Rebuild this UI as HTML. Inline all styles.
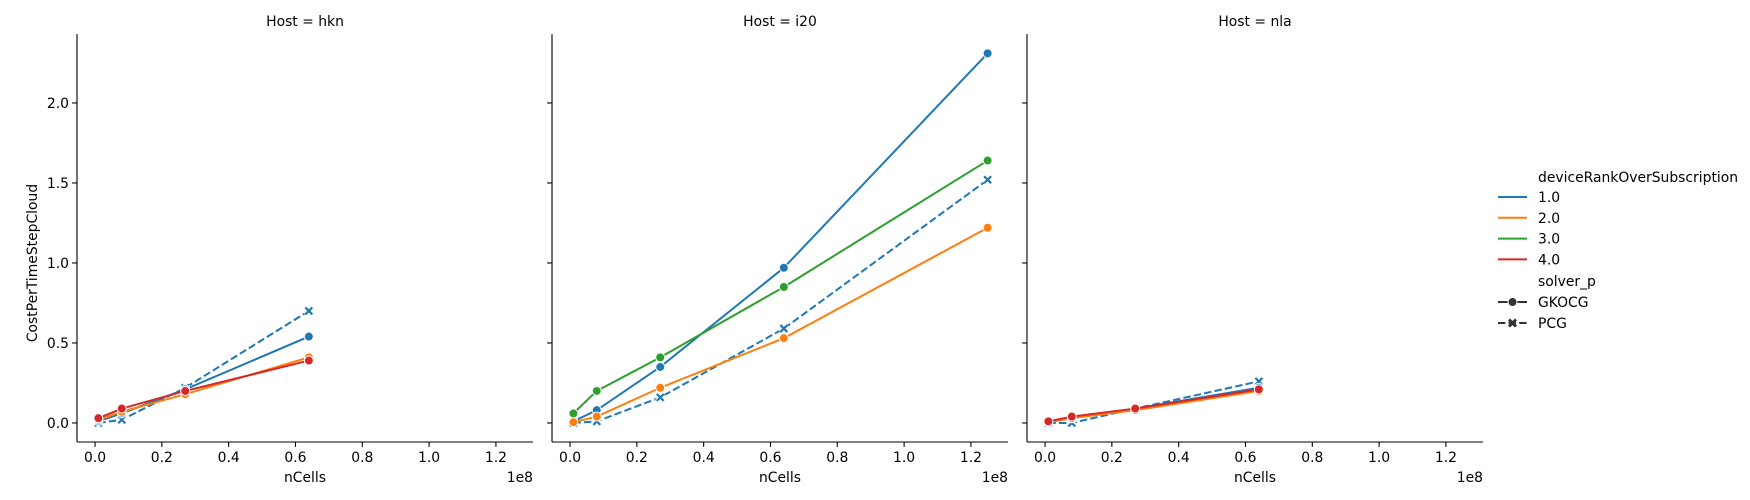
<!DOCTYPE html>
<html><head><meta charset="utf-8"><style>
body{margin:0;background:#fff;}
svg{display:block;font-family:"DejaVu Sans","Liberation Sans",sans-serif;}
</style></head><body>
<svg id="chart" width="1750" height="500" xmlns="http://www.w3.org/2000/svg"></svg>
<script>
const hosts = ["hkn","i20","nla"];
const nCells = [1e6, 8e6, 27e6, 64e6, 125e6];
const xTicks = [0, 0.2, 0.4, 0.6, 0.8, 1.0, 1.2];
const yTicks = [0, 0.5, 1.0, 1.5, 2.0];
const rankLabels = ["1.0","2.0","3.0","4.0"];
const rankColors = ["#1f77b4","#ff7f0e","#2ca02c","#d62728"];
const hknBlueGK = [0.01, 0.06, 0.21, 0.54];
const hknBluePCG = [0.0, 0.02, 0.22, 0.70];
const hknOrangeGK = [0.02, 0.07, 0.18, 0.41];
const hknRedGK = [0.03, 0.09, 0.20, 0.39];
const i20BlueGK = [0.01, 0.08, 0.35, 0.97, 2.31];
const i20BluePCG = [0.0, 0.01, 0.16, 0.59, 1.52];
const i20OrangeGK = [0.005, 0.04, 0.22, 0.53, 1.22];
const i20GreenGK = [0.06, 0.20, 0.41, 0.85, 1.64];
const nlaBlueGK = [0.005, 0.03, 0.09, 0.22];
const nlaBluePCG = [0.0, 0.0, 0.09, 0.26];
const nlaOrangeGK = [0.005, 0.03, 0.08, 0.20];
const nlaRedGK = [0.01, 0.04, 0.09, 0.21];
const series = [
 [0,0,"PCG",hknBluePCG],[0,0,"GKOCG",hknBlueGK],[0,1,"GKOCG",hknOrangeGK],[0,3,"GKOCG",hknRedGK],
 [1,0,"PCG",i20BluePCG],[1,0,"GKOCG",i20BlueGK],[1,1,"GKOCG",i20OrangeGK],[1,2,"GKOCG",i20GreenGK],
 [2,0,"PCG",nlaBluePCG],[2,0,"GKOCG",nlaBlueGK],[2,1,"GKOCG",nlaOrangeGK],[2,3,"GKOCG",nlaRedGK]
];
const svg = document.getElementById('chart');
const NS = "http://www.w3.org/2000/svg";
function mk(tag, attrs, parent, text){
  const e = document.createElementNS(NS, tag);
  for (const k in attrs) e.setAttribute(k, attrs[k]);
  if (text !== undefined) e.textContent = text;
  (parent||svg).appendChild(e); return e;
}
const panelLeft = [77, 552, 1027], panelW = 456, plotTop = 34, plotBottom = 442;
const xMin = -0.054, xMax = 1.311, yMin = -0.119, yMax = 2.431;
function sx(p, v){ return panelLeft[p] + (v - xMin)/(xMax - xMin)*panelW; }
function sy(v){ return plotBottom - (v - yMin)/(yMax - yMin)*(plotBottom - plotTop); }

hosts.forEach((h, p) => {
  const g = mk('g', {});
  
  
  const L = panelLeft[p], R = L + panelW;
  const t = mk('text', {x: L + panelW/2, y: 26, 'text-anchor':'middle', 'font-size':'13.9'}, g, 'Host = ' + h);
  
  
  mk('line', {x1:L, y1:plotTop, x2:L, y2:plotBottom, stroke:'#000', 'stroke-width':1.1}, g);
  mk('line', {x1:L, y1:plotBottom, x2:R, y2:plotBottom, stroke:'#000', 'stroke-width':1.1}, g);
  xTicks.forEach(v => {
    const x = sx(p, v);
    mk('line', {x1:x, y1:plotBottom, x2:x, y2:plotBottom+4.9, stroke:'#000', 'stroke-width':1.1}, g);
    const tl = mk('text', {x:x, y:plotBottom+20, 'text-anchor':'middle', 'font-size':'13.9'}, g, v.toFixed(1));
    
    
  });
  yTicks.forEach(v => {
    const y = sy(v);
    mk('line', {x1:L-4.9, y1:y, x2:L, y2:y, stroke:'#000', 'stroke-width':1.1}, g);
    if (p === 0) {
      const tl = mk('text', {x:L-8, y:y+5, 'text-anchor':'end', 'font-size':'13.9'}, g, v.toFixed(1));
      
      
    }
  });
  const xl = mk('text', {x:L + panelW/2, y:482, 'text-anchor':'middle', 'font-size':'13.9'}, g, 'nCells');
  
  
  const ex = mk('text', {x:R, y:482, 'text-anchor':'end', 'font-size':'13.9'}, g, '1e8');
  
  
});
const yl = mk('text', {x:0, y:0, transform:'translate(37,263) rotate(-90)', 'text-anchor':'middle', 'font-size':'13.9'}, svg, 'CostPerTimeStepCloud');



function xMarker(parent, x, y, c){
  const d = `M${x-3.5},${y-3.5}L${x+3.5},${y+3.5}M${x-3.5},${y+3.5}L${x+3.5},${y-3.5}`;
  mk('path', {d:d, stroke:'#fff', 'stroke-width':4.5, fill:'none'}, parent);
  mk('path', {d:d, stroke:c, 'stroke-width':2.2, fill:'none'}, parent);
}
series.forEach(s => {
  const [p, r, solver, vals] = s;
  const c = rankColors[r];
  const g = mk('g', {});
  
  
  const pts = vals.map((v, i) => [sx(p, nCells[i]/1e8), sy(v)]);
  mk('polyline', {points: pts.map(q => q.join(',')).join(' '), fill:'none', stroke:c, 'stroke-width':2,
    'stroke-dasharray': solver === 'PCG' ? '7.4,3.2' : 'none'}, g);
  pts.forEach(q => {
    if (solver === 'PCG') xMarker(g, q[0], q[1], c);
    else mk('circle', {cx:q[0], cy:q[1], r:4.5, fill:c, stroke:'#fff', 'stroke-width':1}, g);
  });
});

const lg = mk('g', {});


mk('text', {x:1538, y:182, 'font-size':'13.9'}, lg, 'deviceRankOverSubscription');
rankLabels.forEach((lab, i) => {
  const y = 197 + i*20.8;
  const e = mk('g', {}, lg);
  
  
  mk('line', {x1:1498, y1:y, x2:1527, y2:y, stroke:rankColors[i], 'stroke-width':2}, e);
  mk('text', {x:1538, y:y+5, 'font-size':'13.9'}, e, lab);
});
mk('text', {x:1538, y:286, 'font-size':'13.9'}, lg, 'solver_p');
const e1 = mk('g', {}, lg);


mk('line', {x1:1498, y1:302, x2:1527, y2:302, stroke:'#333', 'stroke-width':2}, e1);
mk('circle', {cx:1512.5, cy:302, r:4.5, fill:'#333', stroke:'#fff', 'stroke-width':1}, e1);
mk('text', {x:1538, y:307, 'font-size':'13.9'}, e1, 'GKOCG');
const e2 = mk('g', {}, lg);


mk('line', {x1:1498, y1:323, x2:1527, y2:323, stroke:'#333', 'stroke-width':2, 'stroke-dasharray':'7.4,3.2'}, e2);
mk('path', {d:'M1509,319.5L1516,326.5M1509,326.5L1516,319.5', stroke:'#333', 'stroke-width':3}, e2);
mk('text', {x:1538, y:328, 'font-size':'13.9'}, e2, 'PCG');
</script>
</body></html>
